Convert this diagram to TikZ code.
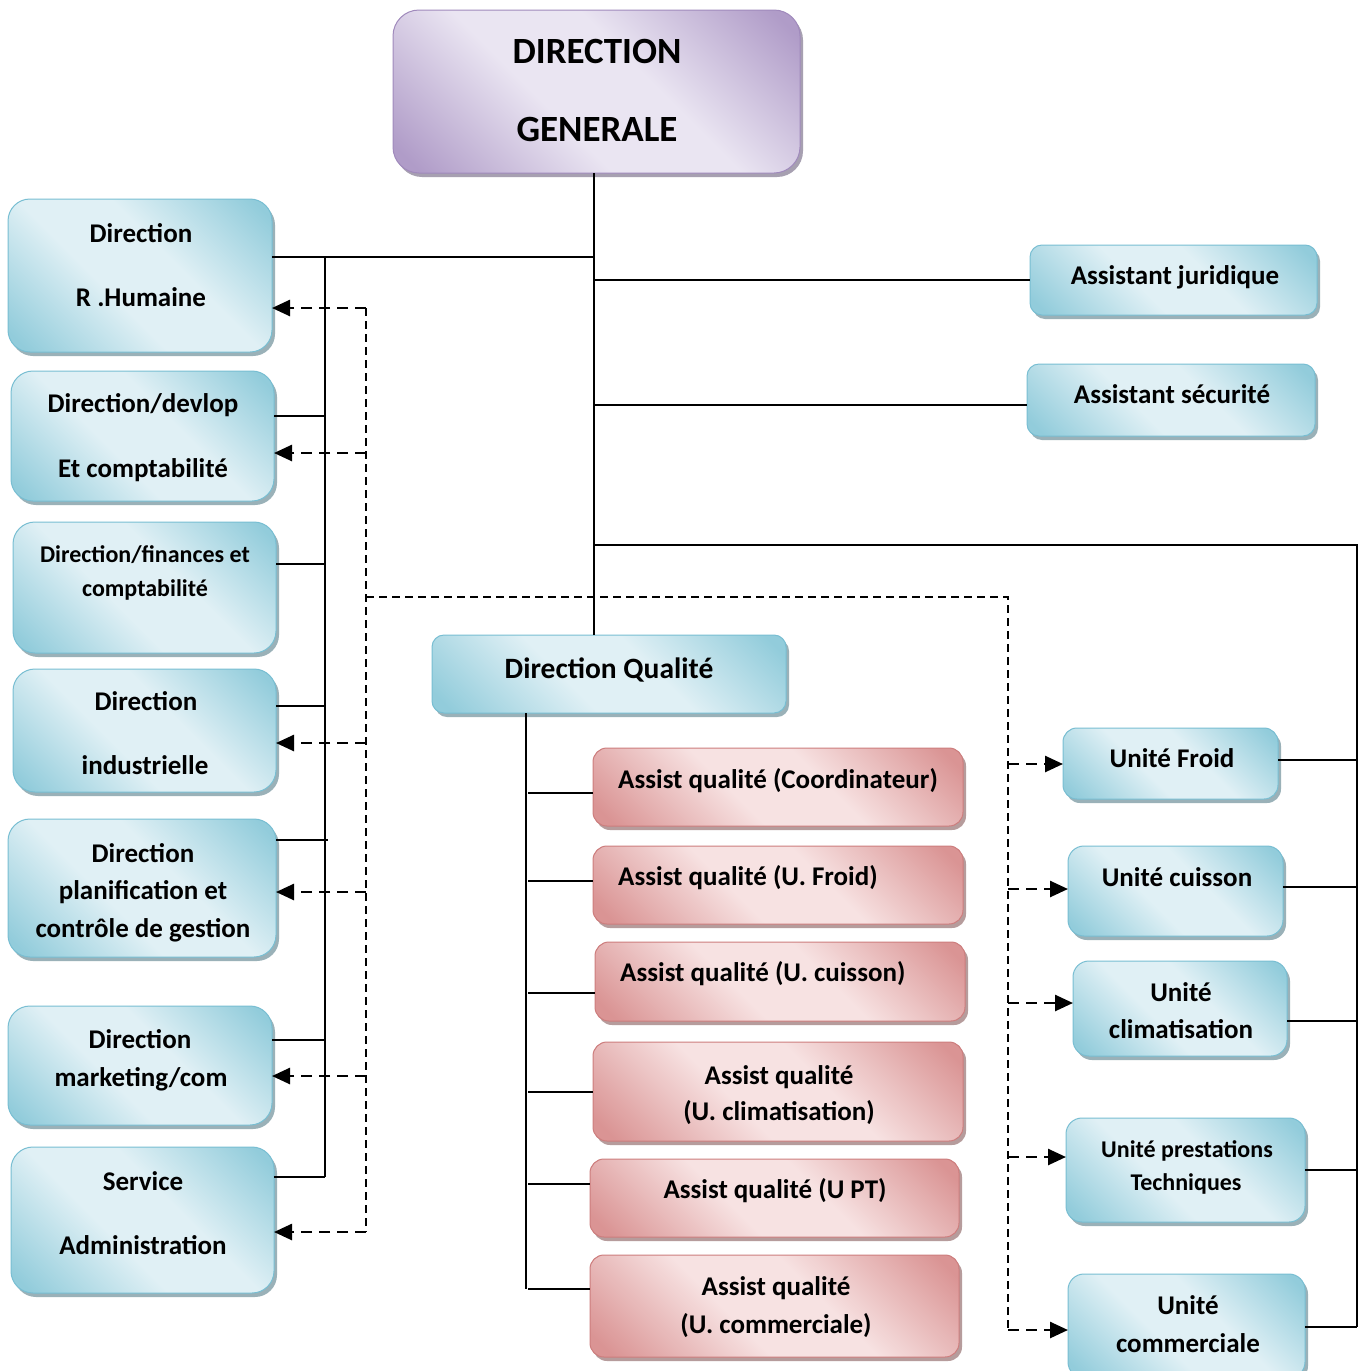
\documentclass[tikz,border=0pt]{standalone}
\usepackage{fontspec}
\setmainfont{Carlito}
\usetikzlibrary{arrows.meta,shadows}
\definecolor{bd}{RGB}{146,204,219}
\definecolor{bl}{RGB}{224,240,245}
\definecolor{bb}{RGB}{120,190,210}
\definecolor{pd}{RGB}{218,148,148}
\definecolor{pl}{RGB}{247,226,226}
\definecolor{pb}{RGB}{205,125,125}
\definecolor{vd}{RGB}{176,156,200}
\definecolor{vl}{RGB}{234,229,242}
\definecolor{vb}{RGB}{160,138,188}
\pgfdeclarehorizontalshading{bshade}{100bp}{color(0bp)=(bd); color(18bp)=(bd); color(42bp)=(bl); color(58bp)=(bl); color(82bp)=(bd); color(100bp)=(bd)}
\pgfdeclarehorizontalshading{pshade}{100bp}{color(0bp)=(pd); color(18bp)=(pd); color(42bp)=(pl); color(58bp)=(pl); color(82bp)=(pd); color(100bp)=(pd)}
\pgfdeclarehorizontalshading{vshade}{100bp}{color(0bp)=(vd); color(18bp)=(vd); color(42bp)=(vl); color(58bp)=(vl); color(82bp)=(vd); color(100bp)=(vd)}
\tikzset{
  boxbase/.style={rectangle, inner sep=0pt, outer sep=0pt, line width=1pt, shading angle=45},
  bluebox/.style={boxbase, draw=bb, shading=bshade, rounded corners=22pt,
     drop shadow={shadow xshift=3pt, shadow yshift=-4pt, fill=bb!60!black, opacity=0.55}},
  pinkbox/.style={boxbase, draw=pb, shading=pshade, rounded corners=14pt,
     drop shadow={shadow xshift=3pt, shadow yshift=-4pt, fill=pb!60!black, opacity=0.55}},
  violetbox/.style={boxbase, draw=vb, shading=vshade, rounded corners=26pt,
     drop shadow={shadow xshift=3pt, shadow yshift=-4pt, fill=vb!60!black, opacity=0.55}},
  txt/.style={inner sep=0pt, anchor=center, text height=17pt, text depth=0pt, font=\bfseries\fontsize{27}{31}\selectfont},
  txtq/.style={inner sep=0pt, anchor=center, text height=18.5pt, text depth=0pt, font=\bfseries\fontsize{29.5}{34}\selectfont},
  txts/.style={inner sep=0pt, anchor=center, text height=15pt, text depth=0pt, font=\bfseries\fontsize{24}{28}\selectfont},
  txtb/.style={inner sep=0pt, anchor=center, text height=23pt, text depth=0pt, font=\bfseries\fontsize{37}{42}\selectfont},
  conn/.style={line width=1.6pt, black},
  dline/.style={line width=1.5pt, black, dash pattern=on 8pt off 5pt},
  darr/.style={line width=2.6pt, black, dash pattern=on 11pt off 7pt, -{Triangle[length=18pt,width=16pt]}},
}
\begin{document}
\begin{tikzpicture}[x=1pt,y=-1pt]
\useasboundingbox[fill=white] (0,0) rectangle (1362,1371);
% coordinates of trunks
\coordinate (trunk) at (594,0);
\coordinate (lt) at (325,0);
\coordinate (ld) at (366,0);
\coordinate (rd) at (1008,0);
\coordinate (rt) at (1357,0);
\coordinate (qt) at (526,0);

% boxes
\node[violetbox, minimum width=407pt, minimum height=163pt] (dg) at (596.5,91.5) {};
\node[bluebox, minimum width=264pt, minimum height=153pt] (hr) at (140,275.5) {};
\node[bluebox, minimum width=263pt, minimum height=130pt] (dev) at (142.5,436) {};
\node[bluebox, minimum width=263pt, minimum height=131pt] (fin) at (144.5,587.5) {};
\node[bluebox, minimum width=263pt, minimum height=123pt] (ind) at (144.5,730.5) {};
\node[bluebox, minimum width=268pt, minimum height=138pt] (pla) at (142,888) {};
\node[bluebox, minimum width=264pt, minimum height=119pt] (mkt) at (140,1065.5) {};
\node[bluebox, minimum width=263pt, minimum height=146pt] (adm) at (142.5,1220) {};
\node[bluebox, minimum width=287pt, minimum height=70pt, rounded corners=12pt] (aj) at (1173.5,280) {};
\node[bluebox, minimum width=288pt, minimum height=72pt, rounded corners=12pt] (as) at (1171,400) {};
\node[bluebox, minimum width=354pt, minimum height=78pt, rounded corners=12pt] (dq) at (609,674) {};
\node[bluebox, minimum width=215pt, minimum height=71pt, rounded corners=14pt] (uf) at (1170.5,763.5) {};
\node[bluebox, minimum width=215pt, minimum height=90pt, rounded corners=16pt] (uc) at (1175.5,891) {};
\node[bluebox, minimum width=214pt, minimum height=95pt, rounded corners=16pt] (ucl) at (1180,1008.5) {};
\node[bluebox, minimum width=239pt, minimum height=104pt, rounded corners=16pt] (upt) at (1185.5,1170) {};
\node[bluebox, minimum width=237pt, minimum height=104pt, rounded corners=16pt] (ucm) at (1186.5,1326) {};
\node[pinkbox, minimum width=370pt, minimum height=78pt] (p1) at (778,787) {};
\node[pinkbox, minimum width=370pt, minimum height=78pt] (p2) at (778,885) {};
\node[pinkbox, minimum width=370pt, minimum height=79pt] (p3) at (780,981.5) {};
\node[pinkbox, minimum width=370pt, minimum height=99pt] (p4) at (778,1091.5) {};
\node[pinkbox, minimum width=369pt, minimum height=78pt] (p5) at (774.5,1198) {};
\node[pinkbox, minimum width=369pt, minimum height=102pt] (p6) at (774.5,1306) {};

% texts
\node[txtb] (tdg1) at (597,52) {DIRECTION};
\node[txtb] (tdg2) at (597,130) {GENERALE};
\node[txt] (thr1) at (141,234) {Direction};
\node[txt] (thr2) at (141,298) {R .Humaine};
\node[txt] (tdev1) at (143,404) {Direction/devlop};
\node[txt] (tdev2) at (143,469) {Et comptabilité};
\node[txts] (tfin1) at (145,555) {Direction/finances et};
\node[txts] (tfin2) at (145,589) {comptabilité};
\node[txt] (tind1) at (146,702) {Direction};
\node[txt] (tind2) at (145,766) {industrielle};
\node[txt] (tpla1) at (143,854) {Direction};
\node[txt] (tpla2) at (143,891) {planification et};
\node[txt] (tpla3) at (143,929) {contrôle de gestion};
\node[txt] (tmkt1) at (140,1040) {Direction};
\node[txt] (tmkt2) at (141,1078) {marketing/com};
\node[txt] (tadm1) at (143,1182) {Service};
\node[txt] (tadm2) at (143,1246) {Administration};
\node[txt] (taj) at (1175,276) {Assistant juridique};
\node[txt] (tas) at (1172,395) {Assistant sécurité};
\node[txtq] (tdq) at (609,669) {Direction Qualité};
\node[txt] (tuf) at (1172,759) {Unité Froid};
\node[txt] (tuc) at (1177,878) {Unité cuisson};
\node[txt] (tucl1) at (1181,993) {Unité};
\node[txt] (tucl2) at (1181,1030) {climatisation};
\node[txts] (tupt1) at (1187,1150) {Unité prestations};
\node[txts] (tupt2) at (1186,1183) {Techniques};
\node[txt] (tucm1) at (1188,1306) {Unité};
\node[txt] (tucm2) at (1188,1344) {commerciale};
\node[txt, anchor=west] (tp1) at (618,780) {Assist qualité (Coordinateur)};
\node[txt, anchor=west] (tp2) at (618,877) {Assist qualité (U. Froid)};
\node[txt, anchor=west] (tp3) at (620,973) {Assist qualité (U. cuisson)};
\node[txt] (tp41) at (779,1076) {Assist qualité};
\node[txt] (tp42) at (779,1112) {(U. climatisation)};
\node[txt] (tp5) at (775,1190) {Assist qualité (U PT)};
\node[txt] (tp61) at (776,1287) {Assist qualité};
\node[txt] (tp62) at (776,1325) {(U. commerciale)};

% solid connectors
\draw[conn] (dg.south -| trunk) -- (dq.north -| trunk);
\draw[conn] (hr.east |- 0,257) -- (trunk |- 0,257);
\draw[conn] (lt |- 0,257) -- (lt |- 0,1177);
\draw[conn] (dev.east |- 0,416) -- (lt |- 0,416);
\draw[conn] (fin.east |- 0,564) -- (lt |- 0,564);
\draw[conn] (ind.east |- 0,706) -- (lt |- 0,706);
\draw[conn] (pla.east |- 0,840) -- ([xshift=3pt]lt |- 0,840);
\draw[conn] (mkt.east |- 0,1040) -- (lt |- 0,1040);
\draw[conn] (adm.east |- 0,1177) -- (lt |- 0,1177);
\draw[conn] (trunk |- 0,280) -- (aj.west |- 0,280);
\draw[conn] (trunk |- 0,405) -- (as.west |- 0,405);
\draw[conn] (trunk |- 0,545) -- (rt |- 0,545) -- (rt |- 0,1327);
\draw[conn] (uf.east |- 0,760) -- (rt |- 0,760);
\draw[conn] (uc.east |- 0,887) -- (rt |- 0,887);
\draw[conn] (ucl.east |- 0,1021) -- (rt |- 0,1021);
\draw[conn] (upt.east |- 0,1170) -- (rt |- 0,1170);
\draw[conn] (ucm.east |- 0,1327) -- (rt |- 0,1327);
\draw[conn] (dq.south -| qt) -- (qt |- 0,1289);
\draw[conn] ([xshift=2pt]qt |- 0,793) -- (p1.west |- 0,793);
\draw[conn] ([xshift=2pt]qt |- 0,881) -- (p2.west |- 0,881);
\draw[conn] ([xshift=2pt]qt |- 0,993) -- (p3.west |- 0,993);
\draw[conn] ([xshift=2pt]qt |- 0,1092) -- (p4.west |- 0,1092);
\draw[conn] ([xshift=2pt]qt |- 0,1184) -- (p5.west |- 0,1184);
\draw[conn] ([xshift=2pt]qt |- 0,1289) -- (p6.west |- 0,1289);

% dashed lines
\draw[dline] (ld |- 0,308) -- (ld |- 0,1232);
\draw[dline] (ld |- 0,597) -- (rd |- 0,597) -- (rd |- 0,1330);
\draw[darr] (ld |- 0,308) -- (hr.east |- 0,308);
\draw[darr] (ld |- 0,453) -- (dev.east |- 0,453);
\draw[darr] (ld |- 0,743) -- (ind.east |- 0,743);
\draw[darr] (ld |- 0,892) -- (pla.east |- 0,892);
\draw[darr] (ld |- 0,1076) -- (mkt.east |- 0,1076);
\draw[darr] (ld |- 0,1232) -- (adm.east |- 0,1232);
\draw[darr] (rd |- 0,764) -- (uf.west |- 0,764);
\draw[darr] (rd |- 0,889) -- (uc.west |- 0,889);
\draw[darr] (rd |- 0,1003) -- (ucl.west |- 0,1003);
\draw[darr] (rd |- 0,1157) -- (upt.west |- 0,1157);
\draw[darr] (rd |- 0,1330) -- (ucm.west |- 0,1330);
\end{tikzpicture}
\end{document}
